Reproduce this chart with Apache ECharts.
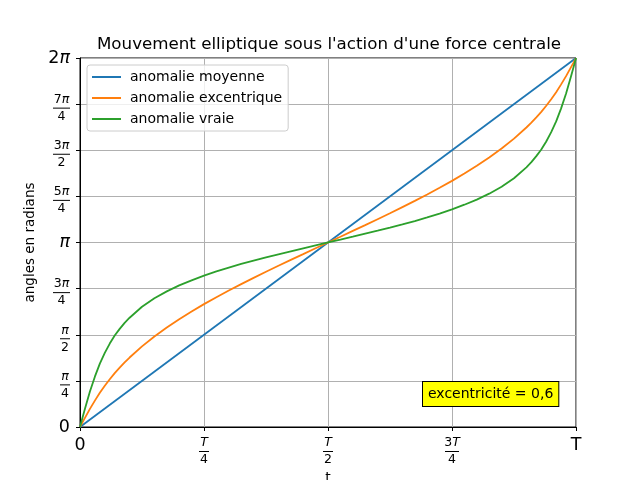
<!DOCTYPE html>
<html>
<head>
<meta charset="utf-8">
<script src="https://cdn.jsdelivr.net/npm/echarts@6/dist/echarts.min.js"></script>
<style>
  body { margin: 0; background: #fff; }
  #chart { width: 640px; height: 480px; }
</style>
</head>
<body>
<div id="chart"></div>
<script>
// time in fractions of the period T
const temps = [0, 0.005, 0.01, 0.02, 0.03, 0.04, 0.05, 0.06, 0.07, 0.08, 0.09, 0.1,
  0.125, 0.15, 0.175, 0.2, 0.225, 0.25, 0.275, 0.3, 0.325, 0.35, 0.375, 0.4, 0.425, 0.45, 0.475, 0.5,
  0.525, 0.55, 0.575, 0.6, 0.625, 0.65, 0.675, 0.7, 0.725, 0.75, 0.775, 0.8, 0.825, 0.85, 0.875, 0.9,
  0.91, 0.92, 0.93, 0.94, 0.95, 0.96, 0.97, 0.98, 0.99, 0.995, 1];

const moyenneT = [0, 1];
const moyenne = [0, 6.283];

const excentrique = [0, 0.079, 0.156, 0.309, 0.449, 0.582, 0.701, 0.813, 0.917, 1.011, 1.100, 1.183,
  1.373, 1.542, 1.695, 1.836, 1.966, 2.092, 2.209, 2.323, 2.433, 2.539, 2.644, 2.745, 2.845, 2.944, 3.044, 3.142,
  3.239, 3.339, 3.438, 3.538, 3.639, 3.744, 3.850, 3.960, 4.074, 4.191, 4.317, 4.447, 4.588, 4.741, 4.910, 5.100,
  5.183, 5.272, 5.366, 5.470, 5.582, 5.701, 5.834, 5.974, 6.127, 6.204, 6.283];

const vraie = [0, 0.156, 0.310, 0.604, 0.857, 1.079, 1.262, 1.421, 1.558, 1.671, 1.774, 1.861,
  2.047, 2.193, 2.310, 2.411, 2.498, 2.578, 2.649, 2.715, 2.776, 2.833, 2.889, 2.941, 2.992, 3.043, 3.093, 3.142,
  3.190, 3.240, 3.291, 3.342, 3.394, 3.450, 3.507, 3.568, 3.634, 3.705, 3.785, 3.872, 3.973, 4.090, 4.236, 4.422,
  4.509, 4.612, 4.725, 4.862, 5.021, 5.204, 5.426, 5.679, 5.973, 6.127, 6.283];

// tick labels (rich text, fractions drawn as numerator / bar / denominator)
const NB = "\u00a0";
const yTickLabels = [
  "{big|0}",
  `{sp|${NB}}\n{numi|π}\n{bar1|${NB}}\n{den|4}`,
  `{sp|${NB}}\n{numi|π}\n{bar1|${NB}}\n{den|2}`,
  `{sp|${NB}}\n{num|3}{numi|π}\n{bar2|${NB}}\n{den|4}`,
  "{bigi|π}",
  `{sp|${NB}}\n{num|5}{numi|π}\n{bar2|${NB}}\n{den|4}`,
  `{sp|${NB}}\n{num|3}{numi|π}\n{bar2|${NB}}\n{den|2}`,
  `{sp|${NB}}\n{num|7}{numi|π}\n{bar2|${NB}}\n{den|4}`,
  "{big|2}{bigi|π}",
];
const xTickLabels = [
  "{big|0}",
  `{numi|T}\n{bar1|${NB}}\n{den|4}`,
  `{numi|T}\n{bar1|${NB}}\n{den|2}`,
  `{num|3}{numi|T}\n{bar3|${NB}}\n{den|4}`,
  "{big|T}",
];

const FONT = "DejaVu Sans";
const BAR = { fontFamily: FONT, fontSize: 10, height: 1, lineHeight: 3, backgroundColor: "#000", align: "center" };

const rich = {
  big: { fontFamily: FONT, fontSize: 17.5, color: "#000" },
  bigi: { fontFamily: FONT, fontSize: 17.5, fontStyle: "italic", color: "#000" },
  sp: { fontFamily: FONT, fontSize: 4, lineHeight: 8, align: "center" },
  num: { fontFamily: FONT, fontSize: 12.5, color: "#000", lineHeight: 14, align: "center" },
  numi: { fontFamily: FONT, fontSize: 12.5, fontStyle: "italic", color: "#000", lineHeight: 14, align: "center" },
  bar1: Object.assign({ width: 10 }, BAR),
  bar2: Object.assign({ width: 17 }, BAR),
  bar3: Object.assign({ width: 14 }, BAR),
  den: { fontFamily: FONT, fontSize: 12.5, color: "#000", lineHeight: 14, align: "center" },
};

const pairs = (xs, ys) => xs.map((x, i) => [x, ys[i]]);

const chart = echarts.init(document.getElementById("chart"));

const lineSeries = (name, data, color) => ({
  name,
  type: "line",
  data,
  symbol: "none",
  animation: false,
  lineStyle: { color, width: 1.8 },
  itemStyle: { color },
});

chart.setOption({
  animation: false,
  title: {
    text: "Mouvement elliptique sous l'action d'une force centrale",
    left: 324,
    top: 31,
    textAlign: "center",
    textStyle: { fontFamily: FONT, fontSize: 16.7, fontWeight: "normal", color: "#000" },
  },
  legend: {
    orient: "vertical",
    left: 87,
    top: 65,
    itemWidth: 29,
    itemHeight: 14,
    itemGap: 7,
    padding: [5, 6, 5, 5],
    icon: "path://M0,0H29V2H0Z",
    backgroundColor: "rgba(255,255,255,0.8)",
    borderColor: "#cccccc",
    borderWidth: 1,
    borderRadius: 3,
    textStyle: { fontFamily: FONT, fontSize: 14, color: "#000", padding: [0, 0, 0, 4] },
    data: ["anomalie moyenne", "anomalie excentrique", "anomalie vraie"],
  },
  grid: {
    left: 80,
    right: 64,
    top: 58,
    bottom: 53,
    outerBoundsMode: "none",
    containLabel: false,
    show: true,
    borderColor: "#000",
    borderWidth: 1,
    backgroundColor: "transparent",
  },
  xAxis: {
    type: "value",
    min: 0,
    max: 1,
    interval: 0.25,
    name: "t",
    nameLocation: "middle",
    nameGap: 44,
    nameTextStyle: { fontFamily: FONT, fontSize: 14, color: "#000" },
    axisLine: { show: true, lineStyle: { color: "#000", width: 1 } },
    axisTick: { show: true, length: 4, lineStyle: { color: "#000" } },
    splitLine: { show: true, lineStyle: { color: "#b0b0b0", width: 1 } },
    axisLabel: {
      margin: 9,
      formatter: (v) => xTickLabels[Math.round(v * 4)],
      rich,
    },
  },
  yAxis: {
    type: "value",
    min: 0,
    max: 2 * Math.PI,
    interval: Math.PI / 4,
    name: "angles en radians",
    nameLocation: "middle",
    nameGap: 42,
    nameTextStyle: { fontFamily: FONT, fontSize: 13.5, color: "#000" },
    axisLine: { show: true, lineStyle: { color: "#000", width: 1 } },
    axisTick: { show: true, length: 4, lineStyle: { color: "#000" } },
    splitLine: { show: true, lineStyle: { color: "#b0b0b0", width: 1 } },
    axisLabel: {
      margin: 10,
      formatter: (v) => yTickLabels[Math.round(v / (Math.PI / 4))],
      rich,
    },
  },
  graphic: [
    {
      type: "text",
      left: 422,
      top: 381,
      z: 100,
      style: {
        text: "excentricité = 0,6",
        font: "14px 'DejaVu Sans'",
        fill: "#000",
        backgroundColor: "#ffff00",
        borderColor: "#000",
        borderWidth: 1,
        padding: [5, 5, 5, 5],
      },
    },
  ],
  series: [
    lineSeries("anomalie moyenne", pairs(moyenneT, moyenne), "#1f77b4"),
    lineSeries("anomalie excentrique", pairs(temps, excentrique), "#ff7f0e"),
    lineSeries("anomalie vraie", pairs(temps, vraie), "#2ca02c"),
  ],
});
</script>
</body>
</html>
